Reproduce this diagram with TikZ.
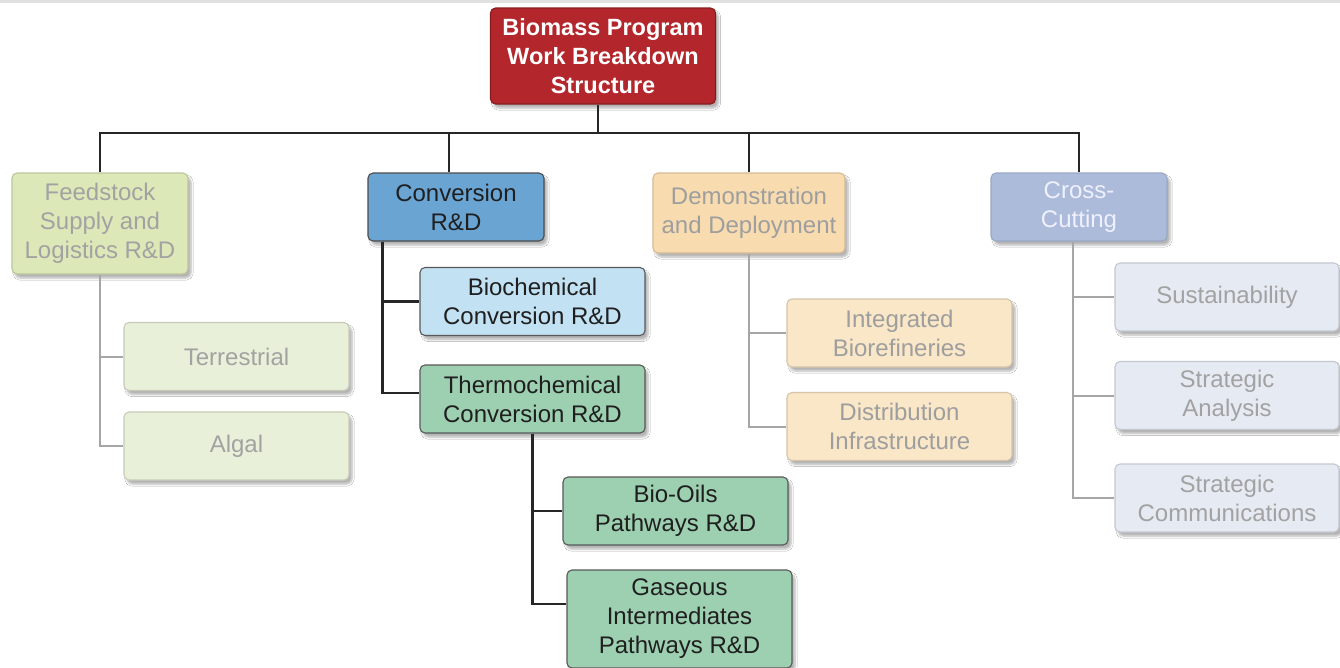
\documentclass[tikz,border=0pt]{standalone}
\usepackage{fontspec}
\setmainfont{Liberation Sans}
\usetikzlibrary{shadows.blur}
\usetikzlibrary{positioning}

\definecolor{rootred}{HTML}{B3262B}
\definecolor{convblue}{HTML}{6AA4D3}
\definecolor{biolight}{HTML}{C2E2F3}
\definecolor{thermogreen}{HTML}{9DCFB1}
\definecolor{feedgreen}{HTML}{DDE8B8}
\definecolor{leafgreen}{HTML}{E9F0D9}
\definecolor{demoorange}{HTML}{F8DCB0}
\definecolor{leaforange}{HTML}{F9E7C7}
\definecolor{crossblue}{HTML}{ABBBD9}
\definecolor{leafblue}{HTML}{E6EAF3}
\definecolor{fadetext}{HTML}{A2A2A2}

\begin{document}
\begin{tikzpicture}[x=1pt,y=-1pt,
	box/.style={draw, rounded corners=5pt, line width=1.1pt, align=center, inner sep=0pt,
		font=\fontsize{24}{29}\selectfont,
		blur shadow={shadow blur steps=6, shadow xshift=3pt, shadow yshift=-4pt, shadow opacity=30}},
	small/.style={box, minimum width=225pt, minimum height=68pt},
	bus/.style={line width=2.2pt, draw=black!85},
	lite/.style={line width=2pt, draw=black!35}]
	\useasboundingbox[fill=white] (0,0) rectangle (1340,667);
	\draw[black!12, line width=3pt] (0,1) -- (1340,1); % top edge
	% top level
	\node[box, minimum width=225pt, minimum height=96pt, fill=rootred, draw=rootred!75!black,
		text=white, font=\fontsize{23.5}{29}\selectfont\bfseries] (root) at (603,56)
		{Biomass Program\\Work Breakdown\\Structure};
	% second level
	\node[box, minimum width=176pt, minimum height=101pt, fill=feedgreen, draw=feedgreen!85!black,
		text=fadetext] (feed) at (100,223.5) {Feedstock\\Supply and\\Logistics R\&D};
	\node[box, minimum width=176pt, minimum height=68pt, fill=convblue, draw=black!70,
		text=black!88] (conv) at (456,207) {Conversion\\R\&D};
	\node[box, minimum width=192pt, minimum height=80pt, fill=demoorange, draw=demoorange!85!black,
		text=black!38] (demo) at (749,213) {Demonstration\\and Deployment};
	\node[box, minimum width=176pt, minimum height=68pt, fill=crossblue, draw=crossblue!90!black,
		text=white!94!blue] (cross) at (1079,207) {Cross-\\Cutting};
	% third level
	\node[small, fill=leafgreen, draw=leafgreen!85!black, text=fadetext] (terr) at (236.5,356.5) {Terrestrial};
	\node[small, fill=leafgreen, draw=leafgreen!85!black, text=fadetext] (algal) at (236.5,446) {Algal};
	\node[small, fill=biolight, draw=black!65, text=black!88] (bio) at (532.5,301.5) {Biochemical\\Conversion R\&D};
	\node[small, fill=thermogreen, draw=black!65, text=black!88] (thermo) at (532.5,399) {Thermochemical\\Conversion R\&D};
	\node[small, fill=leaforange, draw=leaforange!85!black, text=black!38] (integ) at (899.5,333) {Integrated\\Biorefineries};
	\node[small, fill=leaforange, draw=leaforange!85!black, text=black!38] (distr) at (899.5,426.5) {Distribution\\Infrastructure};
	\node[small, minimum width=224pt, fill=leafblue, draw=leafblue!85!black, text=fadetext] (sust) at (1227,297) {Sustainability};
	\node[small, minimum width=224pt, fill=leafblue, draw=leafblue!85!black, text=fadetext] (anal) at (1227,395.5) {Strategic\\Analysis};
	\node[small, minimum width=224pt, fill=leafblue, draw=leafblue!85!black, text=fadetext] (comm) at (1227,498) {Strategic\\Communications};
	% fourth level
	\node[small, fill=thermogreen, draw=black!65, text=black!88] (oils) at (675.5,511) {Bio-Oils\\Pathways R\&D};
	\node[small, minimum height=98pt, fill=thermogreen, draw=black!65, text=black!88] (gas) at (679.5,619) {Gaseous\\Intermediates\\Pathways R\&D};
	% connectors
	\coordinate (hub) at (598,133);
	\draw[bus] (root.south -| hub) -- (hub);
	\draw[bus] (hub) -| (feed.north);
	\draw[bus] (hub) -| ([xshift=-7pt]conv.north);
	\draw[bus] (hub) -| (demo.north);
	\draw[bus] (hub) -| (cross.north);
	\draw[lite] (feed.south) |- (terr.west);
	\draw[lite] (feed.south) |- (algal.west);
	\draw[bus] ([xshift=15pt]conv.south west) |- (bio.west);
	\draw[bus] ([xshift=15pt]conv.south west) |- ([yshift=6pt]thermo.west);
	\draw[bus] (thermo.south) |- (oils.west);
	\draw[bus] (thermo.south) |- ([yshift=15pt]gas.west);
	\draw[lite] (demo.south) |- (integ.west);
	\draw[lite] (demo.south) |- (distr.west);
	\draw[lite] ([xshift=-6pt]cross.south) |- (sust.west);
	\draw[lite] ([xshift=-6pt]cross.south) |- (anal.west);
	\draw[lite] ([xshift=-6pt]cross.south) |- (comm.west);
\end{tikzpicture}
\end{document}
